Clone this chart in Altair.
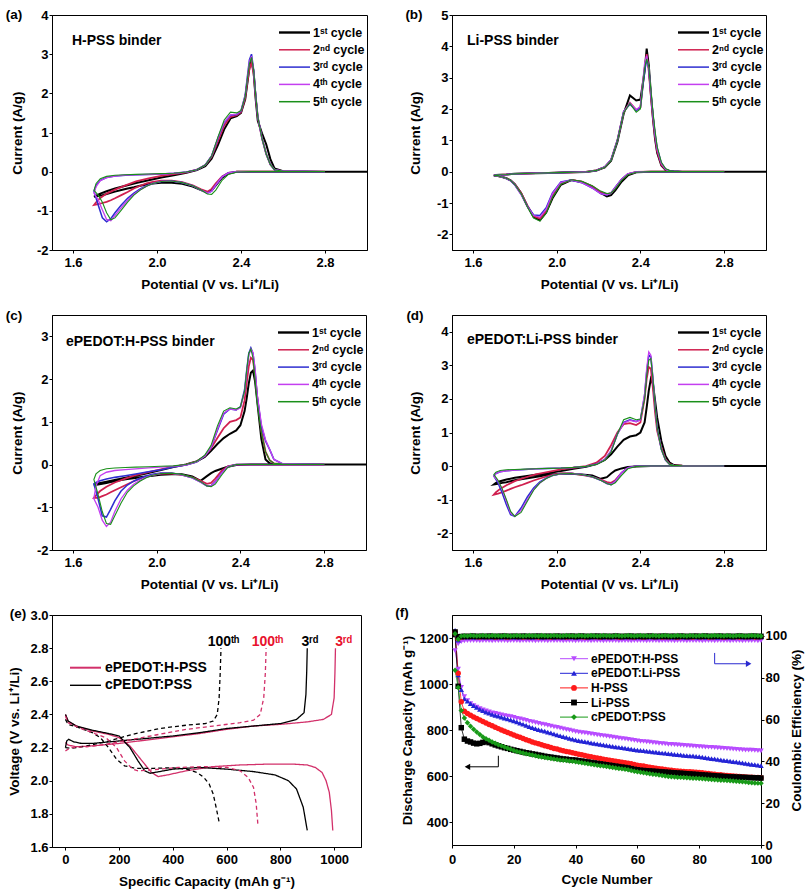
import altair as alt
import pandas as pd

FONT = "Liberation Sans"
MINUS_EXPR = "replace(datum.label, '\u2212', '-')"

# ---------------- CV panels (a)-(d) ----------------
CYCLE_LABELS = ["1\u02e2\u1d57 cycle", "2\u207f\u1d48 cycle", "3\u02b3\u1d48 cycle", "4\u1d57\u02b0 cycle", "5\u1d57\u02b0 cycle"]
CYCLE_COLORS = ["#000000", "#d0204f", "#2e2ed0", "#c43ff0", "#1a8f1a"]
CYCLE_WIDTHS = [2.0, 1.1, 1.1, 1.1, 1.1]
POT_TICKS = [1.6, 2.0, 2.4, 2.8]

V_DOWN = [2.80, 2.45, 2.38, 2.34, 2.31, 2.28, 2.26, 2.24, 2.21, 2.17, 2.12, 2.07, 2.02,
          1.98, 1.95, 1.92, 1.89, 1.86, 1.83, 1.80, 1.78, 1.76, 1.74, 1.72, 1.70]
V_UP = [1.70, 1.71, 1.73, 1.76, 1.80, 1.85, 1.90, 1.96, 2.02, 2.08, 2.14, 2.19, 2.23, 2.26,
        2.29, 2.32, 2.35, 2.38, 2.40, 2.42, 2.43, 2.44, 2.45, 2.46, 2.47, 2.48, 2.50, 2.52,
        2.54, 2.56, 2.60, 2.80]
V_FIRST_END = [3.0]

# (a) H-PSS binder
A1_DOWN = [0, 0, 0, -0.05, -0.15, -0.35, -0.48, -0.53, -0.47, -0.38, -0.31, -0.28, -0.28, -0.30, -0.33, -0.36, -0.40, -0.43, -0.47, -0.51, -0.54, -0.57, -0.60, -0.62, -0.64]
A1_UP = [-0.64, -0.61, -0.56, -0.50, -0.43, -0.36, -0.29, -0.22, -0.15, -0.09, -0.03, 0.04, 0.14, 0.33, 0.68, 1.08, 1.36, 1.42, 1.50, 1.85, 2.25, 2.65, 2.85, 2.55, 1.85, 1.30, 0.98, 0.70, 0.32, 0.08, 0.01, 0, 0]
A2_DOWN = [0, 0, 0, -0.03, -0.12, -0.30, -0.44, -0.51, -0.45, -0.35, -0.27, -0.23, -0.23, -0.26, -0.30, -0.36, -0.43, -0.52, -0.60, -0.68, -0.73, -0.77, -0.80, -0.83, -0.85]
A2_UP = [-0.85, -0.78, -0.67, -0.56, -0.46, -0.35, -0.25, -0.17, -0.11, -0.06, -0.02, 0.05, 0.17, 0.38, 0.78, 1.18, 1.40, 1.44, 1.52, 1.88, 2.28, 2.62, 2.78, 2.50, 1.90, 1.38, 0.85, 0.45, 0.18, 0.05, 0.01, 0]
A3_DOWN = [0, 0, 0, -0.03, -0.13, -0.34, -0.50, -0.55, -0.47, -0.36, -0.28, -0.24, -0.25, -0.30, -0.36, -0.44, -0.55, -0.68, -0.85, -1.05, -1.20, -1.28, -1.18, -0.85, -0.50]
A3_UP = [-0.50, -0.35, -0.22, -0.15, -0.11, -0.09, -0.08, -0.07, -0.06, -0.04, -0.01, 0.05, 0.17, 0.40, 0.85, 1.25, 1.44, 1.46, 1.55, 1.95, 2.40, 2.85, 3.00, 2.60, 1.95, 1.40, 0.85, 0.45, 0.18, 0.05, 0.01, 0]
A4_DOWN = [0, 0, 0, -0.03, -0.13, -0.34, -0.50, -0.55, -0.47, -0.36, -0.28, -0.24, -0.25, -0.30, -0.37, -0.46, -0.58, -0.73, -0.92, -1.12, -1.25, -1.22, -0.98, -0.72, -0.55]
A4_UP = [-0.55, -0.38, -0.23, -0.15, -0.11, -0.09, -0.08, -0.07, -0.06, -0.04, -0.01, 0.05, 0.17, 0.40, 0.85, 1.26, 1.45, 1.47, 1.56, 1.95, 2.38, 2.80, 2.95, 2.60, 1.95, 1.40, 0.85, 0.45, 0.18, 0.05, 0.01, 0]
A5_DOWN = [0, 0, -0.01, -0.07, -0.22, -0.47, -0.58, -0.57, -0.47, -0.36, -0.28, -0.24, -0.25, -0.30, -0.37, -0.47, -0.60, -0.78, -0.98, -1.18, -1.23, -1.05, -0.78, -0.60, -0.48]
A5_UP = [-0.48, -0.30, -0.18, -0.12, -0.09, -0.08, -0.07, -0.06, -0.05, -0.04, -0.01, 0.05, 0.17, 0.40, 0.88, 1.32, 1.52, 1.50, 1.56, 1.92, 2.35, 2.75, 2.92, 2.60, 1.95, 1.40, 0.85, 0.45, 0.18, 0.05, 0.01, 0]

# (b) Li-PSS binder
B1_DOWN = [0, 0, -0.02, -0.12, -0.32, -0.60, -0.75, -0.79, -0.68, -0.48, -0.33, -0.27, -0.42, -0.85, -1.30, -1.55, -1.45, -1.10, -0.68, -0.40, -0.28, -0.21, -0.17, -0.14, -0.12]
B1_UP = [-0.12, -0.11, -0.10, -0.09, -0.07, -0.06, -0.05, -0.04, -0.03, -0.02, -0.01, 0.04, 0.14, 0.35, 0.95, 1.85, 2.43, 2.27, 2.30, 3.20, 3.93, 3.40, 2.50, 1.70, 1.05, 0.60, 0.20, 0.06, 0.02, 0.01, 0, 0, 0]
B2_DOWN = [0, 0, -0.01, -0.08, -0.25, -0.52, -0.68, -0.72, -0.65, -0.47, -0.32, -0.26, -0.38, -0.78, -1.25, -1.50, -1.42, -1.08, -0.68, -0.40, -0.28, -0.21, -0.17, -0.14, -0.12]
B2_UP = [-0.12, -0.11, -0.10, -0.09, -0.07, -0.06, -0.05, -0.04, -0.03, -0.02, -0.01, 0.04, 0.15, 0.38, 1.00, 1.90, 2.20, 1.97, 2.05, 3.30, 3.75, 3.20, 2.40, 1.70, 1.10, 0.65, 0.22, 0.07, 0.02, 0.01, 0, 0]
B3_DOWN = [0, 0, -0.01, -0.07, -0.24, -0.50, -0.68, -0.74, -0.70, -0.52, -0.35, -0.27, -0.33, -0.68, -1.15, -1.40, -1.38, -1.10, -0.72, -0.42, -0.29, -0.22, -0.17, -0.14, -0.12]
B3_UP = [-0.12, -0.11, -0.10, -0.09, -0.07, -0.06, -0.05, -0.04, -0.03, -0.02, -0.01, 0.04, 0.15, 0.38, 1.00, 1.92, 2.15, 1.95, 2.05, 3.20, 3.60, 3.30, 2.50, 1.80, 1.20, 0.75, 0.28, 0.08, 0.02, 0.01, 0, 0]
B4_DOWN = [0, 0, -0.01, -0.07, -0.24, -0.50, -0.68, -0.74, -0.70, -0.52, -0.35, -0.27, -0.34, -0.70, -1.20, -1.45, -1.40, -1.12, -0.73, -0.42, -0.29, -0.22, -0.17, -0.14, -0.12]
B4_UP = [-0.12, -0.11, -0.10, -0.09, -0.07, -0.06, -0.05, -0.04, -0.03, -0.02, -0.01, 0.04, 0.15, 0.38, 1.00, 1.90, 2.20, 1.98, 2.08, 3.45, 3.70, 3.30, 2.50, 1.80, 1.20, 0.72, 0.26, 0.08, 0.02, 0.01, 0, 0]
B5_DOWN = [0, 0, -0.02, -0.10, -0.28, -0.55, -0.68, -0.70, -0.62, -0.45, -0.31, -0.26, -0.40, -0.82, -1.32, -1.58, -1.48, -1.12, -0.70, -0.41, -0.28, -0.21, -0.17, -0.14, -0.12]
B5_UP = [-0.12, -0.11, -0.10, -0.09, -0.07, -0.06, -0.05, -0.04, -0.03, -0.02, -0.01, 0.04, 0.14, 0.36, 0.98, 1.88, 2.18, 1.90, 2.00, 3.30, 3.60, 3.35, 2.60, 1.90, 1.30, 0.80, 0.30, 0.10, 0.03, 0.01, 0, 0]

# (c) ePEDOT:H-PSS binder
C1_DOWN = [0, 0, -0.01, -0.05, -0.10, -0.15, -0.20, -0.27, -0.38, -0.28, -0.23, -0.23, -0.24, -0.26, -0.28, -0.30, -0.32, -0.34, -0.36, -0.39, -0.41, -0.43, -0.45, -0.47, -0.48]
C1_UP = [-0.48, -0.46, -0.43, -0.40, -0.36, -0.31, -0.26, -0.20, -0.13, -0.06, 0.00, 0.07, 0.18, 0.32, 0.48, 0.62, 0.72, 0.80, 0.92, 1.25, 1.55, 1.90, 2.15, 2.20, 1.95, 1.50, 0.60, 0.12, 0.03, 0.01, 0, 0, 0]
C2_DOWN = [0, 0, 0, -0.04, -0.15, -0.33, -0.43, -0.45, -0.38, -0.30, -0.24, -0.21, -0.21, -0.24, -0.28, -0.33, -0.39, -0.46, -0.53, -0.60, -0.65, -0.70, -0.74, -0.78, -0.78]
C2_UP = [-0.78, -0.72, -0.62, -0.52, -0.42, -0.33, -0.25, -0.18, -0.11, -0.05, 0.00, 0.07, 0.20, 0.38, 0.62, 0.85, 1.00, 1.04, 1.10, 1.50, 1.90, 2.30, 2.50, 2.45, 2.10, 1.60, 0.80, 0.30, 0.10, 0.03, 0.01, 0]
C3_DOWN = [0, 0, 0, -0.05, -0.20, -0.40, -0.50, -0.50, -0.41, -0.31, -0.24, -0.20, -0.20, -0.23, -0.27, -0.32, -0.39, -0.48, -0.62, -0.85, -1.05, -1.23, -1.20, -0.80, -0.45]
C3_UP = [-0.45, -0.42, -0.38, -0.34, -0.30, -0.26, -0.22, -0.17, -0.12, -0.06, -0.01, 0.06, 0.20, 0.40, 0.80, 1.18, 1.30, 1.28, 1.35, 1.75, 2.20, 2.60, 2.73, 2.60, 2.20, 1.60, 0.90, 0.55, 0.35, 0.12, 0.02, 0]
C4_DOWN = [0, 0, 0, -0.05, -0.20, -0.40, -0.50, -0.50, -0.41, -0.31, -0.24, -0.20, -0.21, -0.25, -0.30, -0.37, -0.46, -0.60, -0.80, -1.10, -1.35, -1.45, -1.30, -1.00, -0.80]
C4_UP = [-0.80, -0.50, -0.26, -0.18, -0.14, -0.12, -0.10, -0.08, -0.06, -0.04, -0.01, 0.06, 0.20, 0.40, 0.82, 1.20, 1.30, 1.28, 1.33, 1.70, 2.15, 2.55, 2.70, 2.62, 2.25, 1.65, 0.95, 0.58, 0.35, 0.12, 0.02, 0]
C5_DOWN = [0, 0, 0, -0.06, -0.25, -0.46, -0.52, -0.50, -0.40, -0.30, -0.23, -0.20, -0.21, -0.25, -0.31, -0.39, -0.50, -0.65, -0.90, -1.20, -1.40, -1.38, -1.10, -0.70, -0.35]
C5_UP = [-0.35, -0.22, -0.14, -0.10, -0.08, -0.07, -0.06, -0.05, -0.04, -0.03, 0.00, 0.07, 0.22, 0.45, 0.90, 1.25, 1.33, 1.30, 1.35, 1.72, 2.20, 2.60, 2.70, 2.50, 2.00, 1.45, 0.75, 0.30, 0.10, 0.03, 0.01, 0]

# (d) ePEDOT:Li-PSS binder
D1_DOWN = [0, 0, -0.01, -0.03, -0.07, -0.13, -0.22, -0.33, -0.38, -0.28, -0.25, -0.23, -0.23, -0.25, -0.27, -0.30, -0.33, -0.36, -0.39, -0.42, -0.45, -0.48, -0.50, -0.53, -0.55]
D1_UP = [-0.55, -0.50, -0.45, -0.40, -0.35, -0.30, -0.26, -0.21, -0.15, -0.08, -0.02, 0.06, 0.18, 0.35, 0.58, 0.78, 0.88, 0.92, 1.00, 1.30, 1.75, 2.25, 2.60, 2.45, 1.95, 1.45, 0.75, 0.30, 0.10, 0.03, 0.01, 0, 0]
D2_DOWN = [0, 0, 0, -0.05, -0.20, -0.42, -0.50, -0.48, -0.40, -0.32, -0.26, -0.22, -0.22, -0.26, -0.31, -0.37, -0.43, -0.50, -0.57, -0.63, -0.68, -0.73, -0.78, -0.82, -0.85]
D2_UP = [-0.85, -0.78, -0.68, -0.57, -0.45, -0.34, -0.25, -0.17, -0.10, -0.05, 0.00, 0.10, 0.30, 0.62, 1.00, 1.25, 1.28, 1.22, 1.30, 2.00, 2.60, 2.95, 2.90, 2.30, 1.60, 1.05, 0.55, 0.20, 0.06, 0.02, 0.01, 0]
D3_DOWN = [0, 0, 0, -0.05, -0.20, -0.45, -0.55, -0.52, -0.42, -0.32, -0.25, -0.22, -0.23, -0.28, -0.36, -0.47, -0.65, -0.92, -1.25, -1.50, -1.45, -1.15, -0.80, -0.50, -0.30]
D3_UP = [-0.30, -0.22, -0.17, -0.14, -0.12, -0.10, -0.08, -0.07, -0.06, -0.04, -0.01, 0.06, 0.20, 0.45, 0.95, 1.30, 1.38, 1.33, 1.38, 2.10, 2.80, 3.30, 3.25, 2.60, 1.80, 1.15, 0.50, 0.18, 0.05, 0.02, 0.01, 0]
D4_DOWN = [0, 0, 0, -0.05, -0.20, -0.45, -0.55, -0.52, -0.42, -0.32, -0.25, -0.22, -0.23, -0.28, -0.37, -0.50, -0.70, -1.00, -1.32, -1.50, -1.40, -1.05, -0.70, -0.45, -0.30]
D4_UP = [-0.30, -0.22, -0.17, -0.14, -0.12, -0.10, -0.08, -0.07, -0.06, -0.04, -0.01, 0.06, 0.20, 0.45, 0.95, 1.28, 1.36, 1.32, 1.38, 2.15, 2.90, 3.40, 3.30, 2.60, 1.80, 1.15, 0.50, 0.18, 0.05, 0.02, 0.01, 0]
D5_DOWN = [0, 0, -0.01, -0.08, -0.28, -0.50, -0.56, -0.52, -0.42, -0.32, -0.25, -0.22, -0.23, -0.28, -0.37, -0.50, -0.72, -1.05, -1.38, -1.50, -1.35, -1.00, -0.68, -0.42, -0.25]
D5_UP = [-0.25, -0.18, -0.13, -0.11, -0.10, -0.09, -0.08, -0.07, -0.06, -0.04, -0.01, 0.05, 0.18, 0.42, 0.95, 1.38, 1.45, 1.38, 1.40, 2.00, 2.70, 3.15, 3.20, 2.60, 1.80, 1.15, 0.50, 0.18, 0.05, 0.02, 0.01, 0]

# ---------------- (e) charge/discharge profiles ----------------
E_SAMPLES = ["ePEDOT:H-PSS", "cPEDOT:PSS"]
E_COLORS = ["#d2306a", "#000000"]
E_CYCLES = ["3rd", "100th"]
E_X_TICKS = [0, 200, 400, 600, 800, 1000]
E_Y_TICKS = [1.6, 1.8, 2.0, 2.2, 2.4, 2.6, 2.8, 3.0]

E_R3_DIS_CAP = [0, 10, 40, 100, 160, 200, 240, 280, 320, 345, 380, 450, 550, 650, 750, 850, 900, 930, 955, 970, 982, 990, 995]
E_R3_DIS_V = [2.40, 2.36, 2.33, 2.30, 2.28, 2.26, 2.21, 2.13, 2.05, 2.025, 2.035, 2.06, 2.085, 2.095, 2.10, 2.10, 2.095, 2.08, 2.05, 2.00, 1.93, 1.82, 1.70]
E_R3_CH_CAP = [0, 10, 40, 100, 200, 300, 400, 500, 600, 700, 800, 900, 960, 990, 1000, 1003, 1005]
E_R3_CH_V = [2.23, 2.215, 2.205, 2.21, 2.225, 2.245, 2.265, 2.285, 2.31, 2.33, 2.34, 2.355, 2.37, 2.40, 2.50, 2.65, 2.80]
E_B3_DIS_CAP = [0, 10, 40, 100, 160, 200, 240, 270, 295, 315, 350, 400, 500, 600, 700, 780, 830, 860, 885, 900]
E_B3_DIS_V = [2.40, 2.36, 2.33, 2.305, 2.285, 2.27, 2.20, 2.12, 2.06, 2.045, 2.055, 2.07, 2.08, 2.07, 2.055, 2.035, 2.00, 1.95, 1.84, 1.70]
E_B3_CH_CAP = [0, 5, 12, 30, 60, 100, 200, 300, 400, 500, 600, 700, 800, 860, 888, 895, 898, 900]
E_B3_CH_V = [2.20, 2.24, 2.25, 2.235, 2.225, 2.225, 2.24, 2.255, 2.27, 2.29, 2.315, 2.33, 2.345, 2.37, 2.41, 2.52, 2.66, 2.80]
E_B100_DIS_CAP = [0, 10, 50, 100, 130, 160, 190, 220, 260, 330, 400, 450, 490, 515, 535, 550, 562, 572]
E_B100_DIS_V = [2.37, 2.34, 2.32, 2.29, 2.26, 2.20, 2.13, 2.09, 2.075, 2.075, 2.078, 2.07, 2.05, 2.02, 1.98, 1.92, 1.83, 1.75]
E_B100_CH_CAP = [0, 20, 80, 150, 250, 350, 450, 520, 550, 565, 572, 576, 579]
E_B100_CH_V = [2.20, 2.195, 2.21, 2.235, 2.28, 2.315, 2.335, 2.345, 2.36, 2.40, 2.50, 2.65, 2.80]
E_R100_DIS_CAP = [0, 10, 50, 100, 150, 190, 220, 250, 270, 320, 420, 520, 600, 650, 680, 700, 710, 716]
E_R100_DIS_V = [2.39, 2.35, 2.32, 2.29, 2.26, 2.20, 2.12, 2.07, 2.06, 2.065, 2.08, 2.085, 2.08, 2.06, 2.02, 1.96, 1.86, 1.74]
E_R100_CH_CAP = [0, 20, 80, 150, 250, 350, 450, 550, 650, 700, 725, 738, 744, 747]
E_R100_CH_V = [2.18, 2.20, 2.205, 2.22, 2.25, 2.28, 2.31, 2.33, 2.35, 2.365, 2.40, 2.50, 2.65, 2.80]

E_LABELS = ["100\u1d57\u02b0", "100\u1d57\u02b0", "3\u02b3\u1d48", "3\u02b3\u1d48"]
E_LABEL_CAP = [588, 752, 910, 1035]
E_LABEL_V = [2.84, 2.84, 2.84, 2.84]
E_LABEL_SAMPLE = [1, 0, 1, 0]

# ---------------- (f) cycling ----------------
F_SERIES = ["ePEDOT:H-PSS", "ePEDOT:Li-PSS", "H-PSS", "Li-PSS", "cPEDOT:PSS"]
F_COLORS = ["#b84cff", "#2424d6", "#ff1a1a", "#000000", "#189a18"]
F_SHAPES = ["triangle-down", "triangle-up", "circle", "square", "diamond"]
F_X_TICKS = [0, 20, 40, 60, 80, 100]
F_Y_TICKS = [400, 600, 800, 1000, 1200]
F_Y2_TICKS = [0, 20, 40, 60, 80, 100]
CYCLES = list(range(1, 101))

CAP_EH = [1145, 1065, 985, 945, 928, 915, 906, 899, 893, 888,
          883, 879, 875, 872, 869, 866, 863, 860, 858, 855,
          851, 848, 845, 842, 838, 835, 832, 829, 826, 823,
          820, 817, 814, 811, 808, 805, 802, 799, 796, 793,
          791, 789, 787, 785, 783, 781, 779, 777, 775, 773,
          771, 769, 767, 765, 763, 761, 759, 757, 755, 753,
          751, 750, 748, 747, 745, 744, 742, 741, 740, 738,
          737, 736, 735, 734, 733, 732, 731, 730, 729, 728,
          727, 726, 725, 724, 723, 722, 721, 720, 719, 718,
          717, 716, 715, 714, 713, 713, 712, 711, 710, 709]
CAP_EL = [1230, 1040, 975, 935, 925, 915, 906, 898, 890, 884,
          878, 873, 868, 864, 860, 856, 852, 848, 844, 840,
          835, 830, 825, 820, 815, 810, 806, 802, 798, 795,
          791, 787, 783, 779, 775, 771, 768, 764, 760, 757,
          754, 752, 749, 747, 744, 742, 740, 738, 735, 733,
          731, 729, 727, 725, 723, 721, 719, 717, 715, 713,
          711, 710, 708, 707, 705, 704, 702, 700, 699, 697,
          696, 694, 693, 692, 690, 689, 688, 687, 685, 684,
          682, 680, 678, 676, 674, 672, 670, 668, 667, 665,
          663, 661, 659, 657, 655, 653, 651, 649, 647, 645]
CAP_H = [1225, 1047, 923, 882, 872, 864, 857, 850, 843, 837,
         830, 824, 818, 812, 806, 800, 795, 789, 784, 778,
         773, 768, 763, 758, 753, 748, 744, 740, 736, 732,
         728, 724, 720, 717, 713, 710, 707, 704, 701, 698,
         695, 692, 689, 686, 684, 681, 678, 676, 673, 671,
         668, 666, 664, 662, 660, 658, 655, 653, 650, 647,
         645, 643, 640, 638, 636, 634, 632, 630, 628, 626,
         625, 623, 622, 621, 620, 619, 618, 617, 616, 615,
         614, 612, 611, 609, 608, 606, 605, 603, 602, 601,
         600, 599, 598, 597, 596, 595, 595, 594, 593, 592]
CAP_L = [1215, 990, 810, 760, 752, 748, 743, 740, 742, 746,
         749, 745, 740, 735, 731, 727, 723, 720, 716, 713,
         710, 707, 704, 701, 699, 696, 694, 691, 689, 686,
         684, 682, 680, 678, 676, 674, 673, 671, 670, 669,
         667, 665, 663, 661, 659, 657, 655, 653, 651, 649,
         647, 645, 643, 641, 639, 637, 635, 632, 629, 627,
         625, 624, 623, 622, 621, 620, 619, 618, 617, 616,
         615, 614, 613, 612, 611, 610, 609, 608, 607, 606,
         605, 604, 603, 602, 601, 600, 599, 598, 597, 596,
         596, 595, 595, 594, 594, 593, 593, 592, 592, 591]
CAP_C = [1060, 985, 885, 852, 832, 816, 803, 791, 780, 770,
         762, 755, 748, 742, 736, 731, 726, 721, 716, 711,
         707, 703, 700, 697, 694, 691, 688, 685, 683, 680,
         678, 676, 674, 672, 670, 668, 667, 665, 664, 662,
         660, 658, 655, 653, 651, 649, 647, 645, 643, 641,
         639, 637, 635, 633, 631, 629, 627, 624, 621, 618,
         616, 614, 612, 610, 608, 606, 604, 602, 600, 598,
         597, 596, 595, 594, 593, 592, 591, 590, 590, 589,
         588, 587, 586, 585, 584, 583, 582, 581, 580, 579,
         578, 577, 576, 575, 574, 572, 571, 570, 569, 568]

CE_EH = [100.6, 96.2, 97.3, 97.6, 97.7, 97.8, 97.7, 97.8, 97.6, 97.7,
         97.8, 97.7, 97.6, 97.8, 97.7, 97.7, 97.8, 97.6, 97.7, 97.8,
         97.7, 97.6, 97.8, 97.7, 97.7, 97.8, 97.6, 97.7, 97.8, 97.7,
         97.6, 97.8, 97.7, 97.7, 97.8, 97.6, 97.7, 97.8, 97.7, 97.6,
         97.8, 97.7, 97.7, 97.8, 97.6, 97.7, 97.8, 97.7, 97.6, 97.8,
         97.7, 97.7, 97.8, 97.6, 97.7, 97.8, 97.7, 97.6, 97.8, 97.7,
         97.7, 97.8, 97.6, 97.7, 97.8, 97.7, 97.6, 97.8, 97.7, 97.7,
         97.8, 97.6, 97.7, 97.8, 97.7, 97.6, 97.8, 97.7, 97.7, 97.8,
         97.6, 97.7, 97.8, 97.7, 97.6, 97.8, 97.7, 97.7, 97.8, 97.6,
         97.7, 97.8, 97.7, 97.6, 97.8, 97.7, 97.7, 97.8, 97.6, 97.7]
CE_EL = [102.6, 98.0, 99.2, 99.4, 99.5, 99.4, 99.3, 99.5, 99.4, 99.4,
         99.5, 99.3, 99.4, 99.5, 99.4, 99.3, 99.4, 99.5, 99.4, 99.4,
         99.3, 99.5, 99.4, 99.4, 99.5, 99.3, 99.4, 99.5, 99.4, 99.3,
         99.4, 99.5, 99.4, 99.4, 99.3, 99.5, 99.4, 99.4, 99.5, 99.3,
         99.4, 99.5, 99.4, 99.3, 99.4, 99.5, 99.4, 99.4, 99.3, 99.5,
         99.4, 99.4, 99.5, 99.3, 99.4, 99.5, 99.4, 99.3, 99.4, 99.5,
         99.4, 99.4, 99.3, 99.5, 99.4, 99.4, 99.5, 99.3, 99.4, 99.5,
         99.4, 99.3, 99.4, 99.5, 99.4, 99.4, 99.3, 99.5, 99.4, 99.4,
         99.5, 99.3, 99.4, 99.5, 99.4, 99.3, 99.4, 99.5, 99.4, 99.4,
         99.3, 99.5, 99.4, 99.4, 99.5, 99.3, 99.4, 99.5, 99.4, 99.4]
CE_H = [101.4, 98.8, 99.5, 99.6, 99.7, 99.6, 99.7, 99.6, 99.5, 99.7,
        99.6, 99.6, 99.7, 99.5, 99.6, 99.7, 99.6, 99.5, 99.6, 99.7,
        99.6, 99.7, 99.5, 99.6, 99.6, 99.7, 99.6, 99.5, 99.7, 99.6,
        99.6, 99.5, 99.7, 99.6, 99.6, 99.7, 99.5, 99.6, 99.7, 99.6,
        99.7, 99.6, 99.5, 99.6, 99.7, 99.6, 99.6, 99.5, 99.7, 99.6,
        99.6, 99.7, 99.6, 99.5, 99.6, 99.7, 99.6, 99.6, 99.5, 99.7,
        99.6, 99.5, 99.6, 99.7, 99.6, 99.6, 99.7, 99.5, 99.6, 99.6,
        99.7, 99.6, 99.5, 99.6, 99.7, 99.6, 99.6, 99.5, 99.7, 99.6,
        99.6, 99.7, 99.5, 99.6, 99.6, 99.7, 99.6, 99.5, 99.6, 99.7,
        99.6, 99.6, 99.5, 99.7, 99.6, 99.6, 99.7, 99.5, 99.6, 99.6]
CE_L = [101.9, 99.6, 99.7, 99.8, 99.7, 99.8, 99.9, 99.7, 99.8, 99.8,
        99.7, 99.9, 99.8, 99.7, 99.8, 99.8, 99.9, 99.7, 99.8, 99.8,
        99.8, 99.7, 99.9, 99.8, 99.7, 99.8, 99.8, 99.9, 99.7, 99.8,
        99.8, 99.8, 99.7, 99.9, 99.8, 99.7, 99.8, 99.8, 99.9, 99.7,
        99.8, 99.9, 99.8, 99.7, 99.8, 99.8, 99.9, 99.7, 99.8, 99.8,
        99.7, 99.8, 99.9, 99.8, 99.7, 99.8, 99.8, 99.9, 99.7, 99.8,
        99.8, 99.7, 99.8, 99.9, 99.8, 99.7, 99.8, 99.8, 99.9, 99.7,
        99.8, 99.8, 99.7, 99.9, 99.8, 99.7, 99.8, 99.8, 99.9, 99.7,
        99.8, 99.9, 99.8, 99.7, 99.8, 99.8, 99.9, 99.7, 99.8, 99.8,
        99.7, 99.8, 99.9, 99.8, 99.7, 99.8, 99.8, 99.9, 99.7, 99.8]
CE_C = [101.0, 98.4, 99.9, 100.1, 100.0, 100.2, 100.1, 100.0, 100.1, 100.2,
        100.1, 100.0, 100.2, 100.1, 100.1, 100.0, 100.2, 100.1, 100.0, 100.1,
        100.2, 100.1, 100.0, 100.1, 100.2, 100.1, 100.1, 100.0, 100.2, 100.1,
        100.0, 100.1, 100.2, 100.1, 100.0, 100.1, 100.2, 100.1, 100.1, 100.0,
        100.2, 100.1, 100.0, 100.1, 100.2, 100.1, 100.0, 100.1, 100.2, 100.1,
        100.1, 100.0, 100.2, 100.1, 100.0, 100.1, 100.2, 100.1, 100.0, 100.1,
        100.2, 100.1, 100.1, 100.0, 100.2, 100.1, 100.0, 100.1, 100.2, 100.1,
        100.0, 100.1, 100.2, 100.1, 100.1, 100.0, 100.2, 100.1, 100.0, 100.1,
        100.2, 100.1, 100.0, 100.1, 100.2, 100.1, 100.1, 100.0, 100.2, 100.1,
        100.0, 100.1, 100.2, 100.1, 100.0, 100.1, 100.2, 100.1, 100.1, 100.0]

F_ARROW_L_CYC = [15, 15, 5]
F_ARROW_L_CAP = [688, 640, 640]
F_ARROW_R_CYC = [85, 85, 96]
F_ARROW_R_CAP = [1135, 1088, 1088]


# ---------------- helpers ----------------
def one():
    return pd.DataFrame({"z": [0]})


def txt(x, y, s, size=13, color="black", align="left"):
    return alt.Chart(one()).mark_text(
        text=s, font=FONT, fontSize=size, fontWeight="bold", color=color,
        align=align, baseline="middle"
    ).encode(x=alt.value(x), y=alt.value(y))


def seg(x1, x2, y, color, width):
    return alt.Chart(one()).mark_rule(color=color, strokeWidth=width).encode(
        x=alt.value(x1), x2=alt.value(x2), y=alt.value(y))


def cv_frame(downs, ups):
    rows = []
    for k in range(5):
        d, u = downs[k], ups[k]
        vu = V_UP + (V_FIRST_END if k == 0 else [])
        assert len(d) == len(V_DOWN), ("down", k, len(d))
        assert len(u) == len(vu), ("up", k, len(u))
        seq = list(zip(V_DOWN, d)) + list(zip(vu, u))[1:]
        for i, (v, c) in enumerate(seq):
            rows.append({"cycle": CYCLE_LABELS[k], "V": v, "I": c, "o": i})
    return pd.DataFrame(rows)


def cv_panel(downs, ups, ydom, yvals, w, h, label, label_dx, label_dy,
             title, title_dx, title_dy, ypad):
    df = cv_frame(downs, ups)
    x = alt.X("V:Q", scale=alt.Scale(domain=[1.5, 3.0], nice=False, zero=False),
              axis=alt.Axis(title="Potential (V vs. Li\u207a/Li)", values=POT_TICKS,
                            format=".1f", titlePadding=8))
    y = alt.Y("I:Q", scale=alt.Scale(domain=ydom, nice=False, zero=False),
              axis=alt.Axis(title="Current (A/g)", values=yvals, labelExpr=MINUS_EXPR,
                            titlePadding=ypad))
    lines = alt.Chart(df).mark_line(clip=True).encode(
        x=x, y=y,
        color=alt.Color("cycle:N", scale=alt.Scale(domain=CYCLE_LABELS, range=CYCLE_COLORS), legend=None),
        strokeWidth=alt.StrokeWidth("cycle:N", scale=alt.Scale(domain=CYCLE_LABELS, range=CYCLE_WIDTHS), legend=None),
        order=alt.Order("o:Q"),
    )
    layers = [lines]
    for i, lab in enumerate(CYCLE_LABELS):
        yy = 17.5 + 17.3 * i
        layers.append(seg(w - 88, w - 57, yy, CYCLE_COLORS[i], CYCLE_WIDTHS[i] + 0.4))
        layers.append(txt(w - 54, yy, lab, 12.5))
    layers.append(txt(title_dx, title_dy, title, 14))
    layers.append(txt(label_dx, label_dy, label, 13.5, align="center"))
    return alt.layer(*layers).properties(width=w, height=h)


pa = cv_panel([A1_DOWN, A2_DOWN, A3_DOWN, A4_DOWN, A5_DOWN], [A1_UP, A2_UP, A3_UP, A4_UP, A5_UP],
              [-2, 4], [-2, -1, 0, 1, 2, 3, 4], 315, 235, "(a)", -38, 0,
              "H-PSS binder", 20, 26, 12)
pb = cv_panel([B1_DOWN, B2_DOWN, B3_DOWN, B4_DOWN, B5_DOWN], [B1_UP, B2_UP, B3_UP, B4_UP, B5_UP],
              [-2.5, 5], [-2, -1, 0, 1, 2, 3, 4, 5], 314, 235, "(b)", -38, 0,
              "Li-PSS binder", 15, 26, 14)
pc = cv_panel([C1_DOWN, C2_DOWN, C3_DOWN, C4_DOWN, C5_DOWN], [C1_UP, C2_UP, C3_UP, C4_UP, C5_UP],
              [-2, 3.5], [-2, -1, 0, 1, 2, 3], 314, 235, "(c)", -38, 1,
              "ePEDOT:H-PSS binder", 14, 27, 12)
pd_ = cv_panel([D1_DOWN, D2_DOWN, D3_DOWN, D4_DOWN, D5_DOWN], [D1_UP, D2_UP, D3_UP, D4_UP, D5_UP],
               [-2.5, 4.5], [-2, -1, 0, 1, 2, 3, 4], 314, 235, "(d)", -37, 1,
               "ePEDOT:Li-PSS binder", 15, 25, 14)

# ---------------- panel (e) ----------------
e_curves = [
    (0, "3rd", E_R3_DIS_CAP, E_R3_DIS_V), (0, "3rd", E_R3_CH_CAP, E_R3_CH_V),
    (1, "3rd", E_B3_DIS_CAP, E_B3_DIS_V), (1, "3rd", E_B3_CH_CAP, E_B3_CH_V),
    (1, "100th", E_B100_DIS_CAP, E_B100_DIS_V), (1, "100th", E_B100_CH_CAP, E_B100_CH_V),
    (0, "100th", E_R100_DIS_CAP, E_R100_DIS_V), (0, "100th", E_R100_CH_CAP, E_R100_CH_V),
]
e_rows = []
for cid, (si, cyc, caps, vs) in enumerate(e_curves):
    assert len(caps) == len(vs), ("e", cid)
    for i, (c, v) in enumerate(zip(caps, vs)):
        e_rows.append({"sample": E_SAMPLES[si], "cyc": cyc, "cid": cid, "cap": c, "V": v, "o": i})
e_df = pd.DataFrame(e_rows)

e_x = alt.X("cap:Q", scale=alt.Scale(domain=[-50, 1100], nice=False, zero=False),
            axis=alt.Axis(title="Specific Capacity (mAh g\u207b\u00b9)", values=E_X_TICKS,
                          format="d", titlePadding=8))
e_y = alt.Y("V:Q", scale=alt.Scale(domain=[1.6, 3.0], nice=False, zero=False),
            axis=alt.Axis(title="Voltage (V vs. Li\u207a/Li)", values=E_Y_TICKS, format=".1f",
                          titlePadding=8))
e_lines = alt.Chart(e_df).mark_line(strokeWidth=1.3).encode(
    x=e_x, y=e_y,
    color=alt.Color("sample:N", scale=alt.Scale(domain=E_SAMPLES, range=E_COLORS), legend=None),
    strokeDash=alt.StrokeDash("cyc:N", scale=alt.Scale(domain=E_CYCLES, range=[[1, 0], [4, 3]]), legend=None),
    detail="cid:N",
    order=alt.Order("o:Q"),
)
e_layers = [e_lines]
LABEL_COLORS = ["#e8112d", "#000000"]
for i, lab in enumerate(E_LABELS):
    e_layers.append(
        alt.Chart(pd.DataFrame({"cap": [E_LABEL_CAP[i]], "V": [E_LABEL_V[i]]})).mark_text(
            text=lab, font=FONT, fontSize=14, fontWeight="bold",
            color=LABEL_COLORS[E_LABEL_SAMPLE[i]], align="center", baseline="middle"
        ).encode(x=e_x, y=e_y))
for i, s in enumerate(E_SAMPLES):
    yy = 52.7 + 17.6 * i
    e_layers.append(seg(18, 49, yy, E_COLORS[i], 2.0 if i == 0 else 1.4))
    e_layers.append(txt(53, yy, s, 14))
e_layers.append(txt(-34, -1, "(e)", 13.5, align="center"))
pe = alt.layer(*e_layers).properties(width=309, height=232)

# ---------------- panel (f) ----------------
cap_lists = [CAP_EH, CAP_EL, CAP_H, CAP_L, CAP_C]
ce_lists = [CE_EH, CE_EL, CE_H, CE_L, CE_C]
f_rows, g_rows = [], []
for s, caps, ces in zip(F_SERIES, cap_lists, ce_lists):
    assert len(caps) == 100 and len(ces) == 100, (s, len(caps), len(ces))
    for cyc, c, e in zip(CYCLES, caps, ces):
        f_rows.append({"series": s, "cycle": cyc, "cap": c})
        g_rows.append({"series": s, "cycle": cyc, "ce": e})
f_df = pd.DataFrame(f_rows)
g_df = pd.DataFrame(g_rows)

f_x = alt.X("cycle:Q", scale=alt.Scale(domain=[0, 100], nice=False, zero=False),
            axis=alt.Axis(title="Cycle Number", values=F_X_TICKS, labelPadding=5, titlePadding=6))
f_y = alt.Y("cap:Q", scale=alt.Scale(domain=[300, 1300], nice=False, zero=False),
            axis=alt.Axis(title="Discharge Capacity (mAh g\u207b\u00b9)", values=F_Y_TICKS,
                          format="d", titlePadding=5))
f_y2 = alt.Y("ce:Q", scale=alt.Scale(domain=[0, 110], nice=False, zero=False),
             axis=alt.Axis(title="Coulombic Efficiency (%)", orient="right", values=F_Y2_TICKS,
                           format="d", titlePadding=17, titleAngle=270))
f_color = alt.Color("series:N", scale=alt.Scale(domain=F_SERIES, range=F_COLORS), legend=None)
f_shape = alt.Shape("series:N", scale=alt.Scale(domain=F_SERIES, range=F_SHAPES), legend=None)

cap_line = alt.Chart(f_df).mark_line(strokeWidth=0.8).encode(x=f_x, y=f_y, color=f_color)
cap_pts = alt.Chart(f_df).mark_point(filled=True, size=30, opacity=1).encode(
    x=f_x, y=f_y, color=f_color, shape=f_shape)

left_layers = [cap_line, cap_pts]
for cyc_l, cap_l, col, head in [(F_ARROW_L_CYC, F_ARROW_L_CAP, "#000000", "triangle-left"),
                                (F_ARROW_R_CYC, F_ARROW_R_CAP, "#2a2ad0", "triangle-right")]:
    adf = pd.DataFrame({"cycle": cyc_l, "cap": cap_l, "o": list(range(len(cyc_l)))})
    left_layers.append(alt.Chart(adf).mark_line(color=col, strokeWidth=1).encode(
        x=f_x, y=f_y, order=alt.Order("o:Q")))
    left_layers.append(alt.Chart(adf.tail(1)).mark_point(
        shape=head, filled=True, size=40, color=col, opacity=1).encode(x=f_x, y=f_y))
for i, s in enumerate(F_SERIES):
    yy = 43.7 + 14.6 * i
    left_layers.append(seg(108, 136, yy, F_COLORS[i], 1))
    left_layers.append(alt.Chart(one()).mark_point(
        shape=F_SHAPES[i], filled=True, size=34, color=F_COLORS[i], opacity=1).encode(
        x=alt.value(122), y=alt.value(yy)))
    left_layers.append(txt(139, yy, s, 12))
left_layers.append(txt(-50, -2, "(f)", 13.5, align="center"))
f_left = alt.layer(*left_layers)

ce_line = alt.Chart(g_df).mark_line(strokeWidth=0.8).encode(x=f_x, y=f_y2, color=f_color)
ce_pts = alt.Chart(g_df).mark_point(filled=True, size=30, opacity=1).encode(
    x=f_x, y=f_y2, color=f_color, shape=f_shape)
f_right = alt.layer(ce_line, ce_pts)

pf = alt.layer(f_left, f_right).resolve_scale(y="independent").properties(width=309, height=230)

chart = alt.concat(
    pa, pb, pc, pd_, pe, pf, columns=2,
    spacing={"row": 65, "column": 85}, bounds="flush"
).resolve_scale(
    color="independent", strokeWidth="independent", strokeDash="independent", shape="independent"
).properties(
    padding={"left": 5, "top": 7, "right": 2, "bottom": 2}
).configure(
    background="white"
).configure_view(
    stroke="black", strokeWidth=1
).configure_axis(
    labelFont=FONT, titleFont=FONT, labelFontSize=13, titleFontSize=13.5,
    labelFontWeight="bold", titleFontWeight="bold", labelColor="black", titleColor="black",
    domainColor="black", tickColor="black", grid=False, tickSize=3,
    labelFlush=False, labelOverlap=False, domainWidth=1, tickWidth=1
).configure_axisX(
    labelPadding=3
).configure_axisY(
    labelPadding=1
)

chart.save("out.html", embed_options={"renderer": "svg", "actions": False})
